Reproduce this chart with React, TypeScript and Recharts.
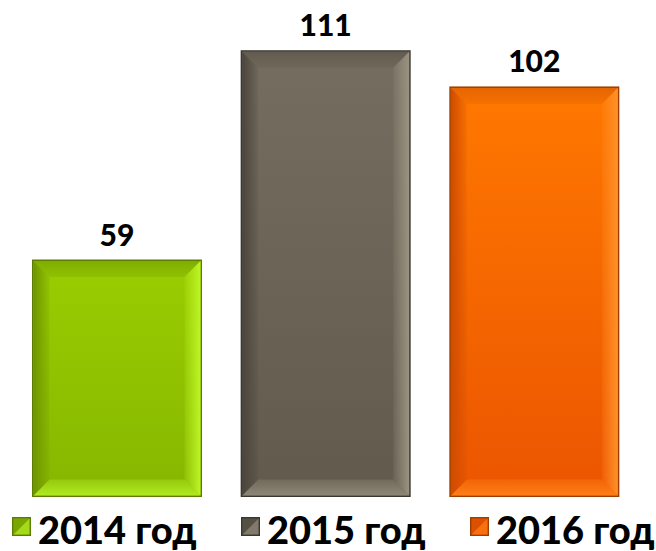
import { BarChart, Bar, XAxis, YAxis, LabelList, Legend } from "recharts";

const years = ["2014 год", "2015 год", "2016 год"];
const counts = [59, 111, 102];

const data = years.map((year, i) => ({ year, value: counts[i] }));

// shading for the bevelled bars: outer border, body gradient, edges
const palettes = [
  {
    border: "#5c7d00",
    bodyTop: "#9acd00",
    bodyBottom: "#86b700",
    leftEdge: "#6f9500",
    rightEdge: "#bdf526",
    topEdge: "#80ad00",
    bottomEdge: "#b0ea22",
  },
  {
    border: "#3b3730",
    bodyTop: "#756e60",
    bodyBottom: "#615a4d",
    leftEdge: "#4a443b",
    rightEdge: "#9a9382",
    topEdge: "#625b4f",
    bottomEdge: "#8e8676",
  },
  {
    border: "#9c3e00",
    bodyTop: "#ff7800",
    bodyBottom: "#eb5500",
    leftEdge: "#cf4c00",
    rightEdge: "#ff9128",
    topEdge: "#e56500",
    bottomEdge: "#ff7e16",
  },
];

const font = "Lato, 'Open Sans', sans-serif";

const BevelBar = (props: any) => {
  const { x, y, width, height, index } = props;
  if (!width || !height || height <= 0) return null;
  const i = index ?? 0;
  const p = palettes[i];
  const b = Math.min(16, width / 4, height / 4);
  const ix = x + 1.5;
  const iy = y + 1.5;
  const iw = width - 3;
  const ih = height - 3;
  const r = ix + iw;
  const btm = iy + ih;
  return (
    <g>
      <rect x={x} y={y} width={width} height={height} fill={p.border} />
      <rect x={ix} y={iy} width={iw} height={ih} fill={`url(#body${i})`} />
      <polygon
        points={`${ix},${iy} ${r},${iy} ${r - b},${iy + b} ${ix + b},${iy + b}`}
        fill={`url(#top${i})`}
      />
      <polygon
        points={`${ix},${btm} ${r},${btm} ${r - b},${btm - b} ${ix + b},${btm - b}`}
        fill={`url(#bottom${i})`}
      />
      <polygon
        points={`${ix},${iy} ${ix + b},${iy + b} ${ix + b},${btm - b} ${ix},${btm}`}
        fill={`url(#left${i})`}
      />
      <polygon
        points={`${r},${iy} ${r - b},${iy + b} ${r - b},${btm - b} ${r},${btm}`}
        fill={`url(#right${i})`}
      />
    </g>
  );
};

const legendX = [12, 241, 470];

const renderLegend = () => (
  <svg width={656} height={54} style={{ display: "block" }}>
    {years.map((year, i) => {
      const p = palettes[i];
      const x = legendX[i];
      const y = 20;
      const s = 19;
      return (
        <g key={year}>
          <rect x={x} y={y} width={s} height={s} fill={p.border} />
          <rect x={x + 1.5} y={y + 1.5} width={s - 3} height={s - 3} fill={p.bodyBottom} />
          <polygon
            points={`${x + 1.5},${y + s - 1.5} ${x + s - 1.5},${y + 1.5} ${x + s - 1.5},${y + s - 1.5}`}
            fill={p.bottomEdge}
            opacity={0.7}
          />
          <polygon
            points={`${x + 1.5},${y + 1.5} ${x + s - 1.5},${y + 1.5} ${x + 1.5},${y + s - 1.5}`}
            fill={p.leftEdge}
            opacity={0.5}
          />
          <text
            x={x + 26}
            y={47}
            fontFamily={font}
            fontWeight={900}
            fontSize={38}
            fill="#000"
          >
            {year}
          </text>
        </g>
      );
    })}
  </svg>
);

export default function App() {
  return (
    <div
      style={{
        position: "absolute",
        left: 0,
        top: 0,
        width: 656,
        height: 551,
        background: "#fff",
      }}
    >
      <BarChart
        width={656}
        height={551}
        data={data}
        margin={{ top: 14, right: 17, bottom: 0, left: 13 }}
      >
        <defs>
          {palettes.map((p, i) => (
            <g key={i}>
              <linearGradient id={`body${i}`} x1="0" y1="0" x2="0" y2="1">
                <stop offset="0%" stopColor={p.bodyTop} />
                <stop offset="100%" stopColor={p.bodyBottom} />
              </linearGradient>
              <linearGradient id={`left${i}`} x1="0" y1="0" x2="1" y2="0">
                <stop offset="0%" stopColor={p.leftEdge} />
                <stop offset="100%" stopColor={p.leftEdge} stopOpacity={0.15} />
              </linearGradient>
              <linearGradient id={`right${i}`} x1="0" y1="0" x2="1" y2="0">
                <stop offset="0%" stopColor={p.rightEdge} stopOpacity={0.15} />
                <stop offset="100%" stopColor={p.rightEdge} />
              </linearGradient>
              <linearGradient id={`top${i}`} x1="0" y1="0" x2="0" y2="1">
                <stop offset="0%" stopColor={p.topEdge} />
                <stop offset="100%" stopColor={p.topEdge} stopOpacity={0.35} />
              </linearGradient>
              <linearGradient id={`bottom${i}`} x1="0" y1="0" x2="0" y2="1">
                <stop offset="0%" stopColor={p.bottomEdge} stopOpacity={0.35} />
                <stop offset="100%" stopColor={p.bottomEdge} />
              </linearGradient>
            </g>
          ))}
        </defs>
        <XAxis dataKey="year" hide />
        <YAxis hide domain={[0, 120]} />
        <Legend
          verticalAlign="bottom"
          content={renderLegend}
          wrapperStyle={{ left: 0, width: 656, height: 54 }}
        />
        <Bar
          dataKey="value"
          barSize={170}
          shape={BevelBar}
          isAnimationActive={false}
        >
          <LabelList
            dataKey="value"
            position="top"
            offset={14}
            fill="#000"
            fontSize={30}
            fontWeight={900}
            fontFamily={font}
          />
        </Bar>
      </BarChart>
    </div>
  );
}
